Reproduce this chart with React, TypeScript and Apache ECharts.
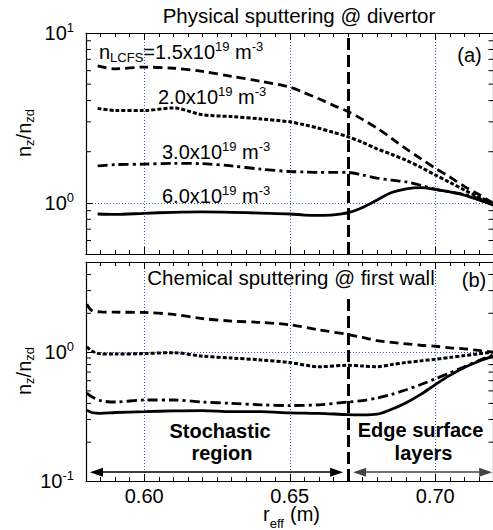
import React, { useEffect, useRef } from 'react';
import * as echarts from 'echarts';

const FONT = '"Liberation Sans", Arial, Helvetica, sans-serif';

// Axis ranges and tick values
const X_MIN = 0.58;
const X_MAX = 0.72;
const X_TICK_LABELS = [0.6, 0.65, 0.7];
const TOP_Y_MIN = 0.5;
const TOP_Y_MAX = 10;
const BOT_Y_MIN = 0.1;
const BOT_Y_MAX = 5;
const TOP_MINOR_TICKS = [0.6, 0.7, 0.8, 0.9, 2, 3, 4, 5, 6, 7, 8, 9];
const BOT_MINOR_TICKS = [0.2, 0.3, 0.4, 0.5, 0.6, 0.7, 0.8, 0.9, 2, 3, 4];
const BOUNDARY_X = 0.67;

// (a) Physical sputtering @ divertor
const topX = [0.584, 0.59, 0.6, 0.61, 0.62, 0.63, 0.64, 0.65, 0.655, 0.66, 0.665, 0.67, 0.675, 0.68, 0.685, 0.69, 0.695, 0.7, 0.705, 0.71, 0.715, 0.72];
const top15 = [6.4, 6.15, 6.3, 6.2, 5.95, 5.55, 5.2, 4.8, 4.45, 4.1, 3.75, 3.45, 3.1, 2.75, 2.4, 2.08, 1.82, 1.6, 1.42, 1.25, 1.12, 0.99];
const top20 = [3.6, 3.5, 3.5, 3.62, 3.3, 3.22, 3.12, 3.0, 2.88, 2.75, 2.6, 2.45, 2.27, 2.08, 1.93, 1.78, 1.62, 1.46, 1.32, 1.19, 1.08, 1.0];
const top30 = [1.65, 1.68, 1.69, 1.71, 1.7, 1.65, 1.58, 1.53, 1.52, 1.51, 1.51, 1.51, 1.46, 1.4, 1.36, 1.33, 1.27, 1.2, 1.16, 1.12, 1.06, 1.0];
const top60 = [0.86, 0.855, 0.868, 0.88, 0.885, 0.88, 0.87, 0.86, 0.848, 0.845, 0.85, 0.875, 0.94, 1.04, 1.15, 1.21, 1.23, 1.2, 1.16, 1.11, 1.04, 0.97];

// (b) Chemical sputtering @ first wall
const botX = [0.5803, 0.582, 0.585, 0.59, 0.6, 0.61, 0.62, 0.63, 0.64, 0.65, 0.66, 0.67, 0.675, 0.68, 0.685, 0.69, 0.695, 0.7, 0.705, 0.71, 0.715, 0.72];
const bot15 = [2.35, 2.1, 2.05, 2.04, 2.03, 1.96, 1.82, 1.74, 1.7, 1.63, 1.49, 1.37, 1.3, 1.23, 1.19, 1.16, 1.13, 1.11, 1.08, 1.06, 1.03, 1.0];
const bot20 = [1.1, 1.02, 0.97, 0.965, 0.975, 0.99, 0.93, 0.9, 0.87, 0.83, 0.77, 0.79, 0.78, 0.77, 0.8, 0.83, 0.855, 0.88, 0.91, 0.94, 0.97, 1.0];
const bot30 = [0.48, 0.45, 0.42, 0.41, 0.425, 0.425, 0.41, 0.4, 0.39, 0.385, 0.39, 0.41, 0.42, 0.44, 0.47, 0.51, 0.56, 0.62, 0.69, 0.77, 0.86, 0.95];
const bot60 = [0.355, 0.34, 0.335, 0.34, 0.345, 0.35, 0.352, 0.345, 0.345, 0.338, 0.335, 0.327, 0.326, 0.33, 0.36, 0.405, 0.47, 0.56, 0.66, 0.76, 0.85, 0.93];

// Region arrows (bottom panel)
const ARROW_Y = 0.117;
const STOCH_RANGE = [0.5836, 0.6661];
const EDGE_RANGE = [0.674, 0.7173];

const zip = (xs: number[], ys: number[]) => xs.map((x, i) => [x, ys[i]]);

const GRID_LEFT = 86;
const GRID_W = 407.5;

const powLabel = (v: number) => {
  const l = Math.log10(v);
  const e = Math.round(l);
  if (Math.abs(l - e) > 1e-6) return '';
  return `{b|10}{s|${e}}`;
};

const labelRich = {
  b: { fontSize: 20, fontFamily: FONT, color: '#000', lineHeight: 24 },
  s: { fontSize: 13, fontFamily: FONT, color: '#000', lineHeight: 14, verticalAlign: 'top' },
};

const splitStyle = { show: true, showMinLine: false, showMaxLine: false, lineStyle: { color: '#3a56c8', width: 1, type: [1, 2] } };

function xAxisDef(gridIndex: number, position: 'top' | 'bottom', withLabels: boolean, withSplit: boolean) {
  return {
    type: 'value',
    gridIndex,
    position,
    min: X_MIN,
    max: X_MAX,
    splitNumber: 3,
    axisLine: { show: true, onZero: false, lineStyle: { color: '#000', width: 1.2 } },
    axisTick: { show: true, inside: true, length: 7, lineStyle: { color: '#000', width: 1 } },
    minorTick: { show: true, splitNumber: 10, length: 4, lineStyle: { color: '#000', width: 1 } },
    splitLine: withSplit ? splitStyle : { show: false },
    axisLabel: {
      show: withLabels,
      margin: 8,
      fontSize: 20,
      lineHeight: 14,
      fontFamily: FONT,
      color: '#000',
      formatter: (v: number) => (X_TICK_LABELS.some((t) => Math.abs(t - v) < 1e-6) ? v.toFixed(2) : ''),
    },
  };
}

function yAxisDef(gridIndex: number, position: 'left' | 'right', min: number, max: number, withLabels: boolean, withSplit: boolean) {
  return {
    type: 'log',
    logBase: 10,
    gridIndex,
    position,
    min,
    max,
    axisLine: { show: true, onZero: false, lineStyle: { color: '#000', width: 1.2 } },
    axisTick: { show: true, inside: true, length: 7, lineStyle: { color: '#000', width: 1 } },
    minorTick: { show: false },
    splitLine: withSplit ? splitStyle : { show: false },
    axisLabel: { show: withLabels, margin: 12, formatter: powLabel, rich: labelRich },
  };
}

function minorTickSeries(xIdx: number, yIdx: number, values: number[]) {
  return {
    type: 'custom',
    xAxisIndex: xIdx,
    yAxisIndex: yIdx,
    silent: true,
    clip: false,
    data: values.map((v) => [X_MIN, v]),
    renderItem: (_p: any, api: any) => {
      const v = api.value(1);
      const l = api.coord([X_MIN, v]);
      const r = api.coord([X_MAX, v]);
      return {
        type: 'group',
        children: [
          { type: 'line', shape: { x1: l[0], y1: l[1], x2: l[0] + 5, y2: l[1] }, style: { stroke: '#000', lineWidth: 1 } },
          { type: 'line', shape: { x1: r[0], y1: r[1], x2: r[0] - 5, y2: r[1] }, style: { stroke: '#000', lineWidth: 1 } },
        ],
      };
    },
  };
}

const STYLES: any[] = [
  { type: [9, 5], width: 2.8 },
  { type: [4, 2], width: 3 },
  { type: [10, 4, 3, 4], width: 2.8 },
  { type: 'solid', width: 2.8 },
];

function curve(name: string, xIdx: number, yIdx: number, data: number[][], styleIdx: number, extra: any = {}) {
  return {
    name,
    type: 'line',
    xAxisIndex: xIdx,
    yAxisIndex: yIdx,
    data,
    showSymbol: false,
    symbol: 'none',
    smooth: 0.3,
    silent: true,
    lineStyle: { color: '#000', ...STYLES[styleIdx] },
    ...extra,
  };
}

const richText = {
  b: { fontSize: 20, fontFamily: FONT, fill: '#000', lineHeight: 24 },
  sup: { fontSize: 13, fontFamily: FONT, fill: '#000', lineHeight: 14, verticalAlign: 'top' },
  sub: { fontSize: 13, fontFamily: FONT, fill: '#000', lineHeight: 8, verticalAlign: 'bottom' },
};

function label(x: number, y: number, text: string, align: string = 'left', extra: any = {}) {
  return {
    type: 'text',
    x,
    y,
    silent: true,
    style: { text, fontSize: 20, fontFamily: FONT, fill: '#000', align, verticalAlign: 'middle', rich: richText, ...extra },
  };
}

export default function App() {
  const ref = useRef<HTMLDivElement>(null);
  useEffect(() => {
    if (!ref.current) return;
    const chart = echarts.init(ref.current, null, { renderer: 'svg' });
    const option: any = {
      animation: false,
      backgroundColor: '#fff',
      grid: [
        { left: GRID_LEFT, top: 33, width: GRID_W, height: 221, containLabel: false, outerBoundsMode: 'none' },
        { left: GRID_LEFT, top: 262, width: GRID_W, height: 219, containLabel: false, outerBoundsMode: 'none' },
      ],
      xAxis: [
        xAxisDef(0, 'bottom', false, true),
        xAxisDef(0, 'top', false, false),
        xAxisDef(1, 'bottom', true, true),
        xAxisDef(1, 'top', false, false),
      ],
      yAxis: [
        yAxisDef(0, 'left', TOP_Y_MIN, TOP_Y_MAX, true, true),
        yAxisDef(0, 'right', TOP_Y_MIN, TOP_Y_MAX, false, false),
        yAxisDef(1, 'left', BOT_Y_MIN, BOT_Y_MAX, true, true),
        yAxisDef(1, 'right', BOT_Y_MIN, BOT_Y_MAX, false, false),
      ],
      series: [
        minorTickSeries(0, 0, TOP_MINOR_TICKS),
        minorTickSeries(2, 2, BOT_MINOR_TICKS),
        curve('1.5', 0, 0, zip(topX, top15), 0),
        curve('2.0', 0, 0, zip(topX, top20), 1),
        curve('3.0', 0, 0, zip(topX, top30), 2),
        curve('6.0', 0, 0, zip(topX, top60), 3, {
          markLine: {
            silent: true,
            symbol: 'none',
            label: { show: false },
            lineStyle: { color: '#000', width: 3, type: [12, 5] },
            data: [[{ coord: [BOUNDARY_X, TOP_Y_MIN] }, { coord: [BOUNDARY_X, TOP_Y_MAX] }]],
          },
        }),
        curve('1.5b', 2, 2, zip(botX, bot15), 0),
        curve('2.0b', 2, 2, zip(botX, bot20), 1),
        curve('3.0b', 2, 2, zip(botX, bot30), 2),
        curve('6.0b', 2, 2, zip(botX, bot60), 3, {
          markLine: {
            silent: true,
            symbol: 'none',
            label: { show: false },
            lineStyle: { color: '#000', width: 3, type: [12, 5] },
            data: [[{ coord: [BOUNDARY_X, BOT_Y_MIN] }, { coord: [BOUNDARY_X, 2.65] }]],
          },
        }),
        {
          type: 'line',
          xAxisIndex: 2,
          yAxisIndex: 2,
          data: [],
          markLine: {
            silent: true,
            symbol: ['triangle', 'triangle'],
            symbolSize: [9, 13],
            label: { show: false },
            lineStyle: { color: '#000', width: 1.5, type: 'solid' },
            data: [
              [{ coord: [STOCH_RANGE[0], ARROW_Y] }, { coord: [STOCH_RANGE[1], ARROW_Y] }],
              [{ coord: [EDGE_RANGE[0], ARROW_Y], lineStyle: { color: '#444' } }, { coord: [EDGE_RANGE[1], ARROW_Y] }],
            ],
          },
        },
      ],
      graphic: [
        label(299, 15, 'Physical sputtering @ divertor', 'center', { fontSize: 20.5 }),
        label(291, 277, 'Chemical sputtering @ first wall', 'center', { fontSize: 20.5 }),
        label(469.5, 55, '(a)', 'center'),
        label(474, 280, '(b)', 'center'),
        label(99, 52, '{b|n}{sub|LCFS}{b|=1.5x10}{sup|19}{b| m}{sup|-3}'),
        label(158, 97, '{b|2.0x10}{sup|19}{b| m}{sup|-3}'),
        label(162, 152, '{b|3.0x10}{sup|19}{b| m}{sup|-3}'),
        label(162, 196, '{b|6.0x10}{sup|19}{b| m}{sup|-3}'),
        label(220, 431, 'Stochastic', 'center', { fontWeight: 'bold' }),
        label(222, 453, 'region', 'center', { fontWeight: 'bold' }),
        label(420.5, 430, 'Edge surface', 'center', { fontWeight: 'bold' }),
        label(423.5, 453, 'layers', 'center', { fontWeight: 'bold' }),
        label(263, 514, 'r', 'left', { lineHeight: 14 }),
        label(269.7, 523, 'eff', 'left', { fontSize: 13, lineHeight: 10 }),
        label(290, 514, '(m)', 'left', { lineHeight: 14 }),
        { ...label(24, 133, '{b|n}{sub|z}{b|/n}{sub|zd}', 'center'), rotation: Math.PI / 2 },
        { ...label(24, 371, '{b|n}{sub|z}{b|/n}{sub|zd}', 'center'), rotation: Math.PI / 2 },
      ],
    };
    chart.setOption(option);
    return () => chart.dispose();
  }, []);
  return <div ref={ref} style={{ width: 493, height: 530, position: 'absolute', left: 0, top: 0 }} />;
}
